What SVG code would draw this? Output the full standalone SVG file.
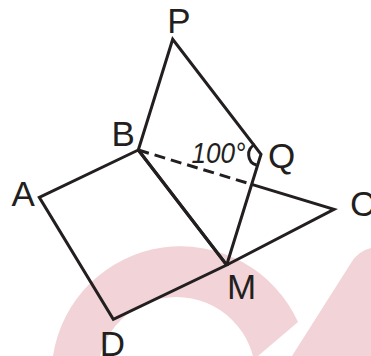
<svg xmlns="http://www.w3.org/2000/svg" width="371" height="356" viewBox="0 0 371 356">
<style>
.wm{fill:#f2d3d8;stroke:none}
.ln{stroke:#231f20;stroke-width:3;fill:none;stroke-linecap:butt;stroke-linejoin:miter}
.dash{stroke-dasharray:11 6}
.lb{font-family:"Liberation Sans",Arial,sans-serif;font-size:35px;fill:#231f20;text-anchor:middle}
.ang{font-family:"Liberation Sans",Arial,sans-serif;font-size:30px;font-style:italic;fill:#231f20}
</style>
<rect width="371" height="356" fill="#ffffff"/>
<g id="watermark">
<path class="wm" fill-rule="evenodd" d="M53,356 A129,129 0 0 1 298,322 L258,356 Z M97.5,376 A79,79 0 0 0 255.5,376 A79,79 0 0 0 97.5,376 Z"/>
<path class="wm" d="M292,356 L351,263 Q358,251 371,248 L371,356 Z"/>
</g>
<g id="connectors">
<polyline class="ln" points="138.3,150 172.7,39.3 261,154.3 226.7,265"/>
<polygon class="ln" points="138.3,150 39.3,197.3 113.3,319.3 226.7,265"/>
<line class="ln" x1="138.3" y1="150" x2="226.7" y2="265"/>
<polyline class="ln" points="226.7,265 334,209.3 251.7,184.4"/>
<line class="ln dash" x1="138.3" y1="150" x2="251.7" y2="184.4"/>
<path class="ln" stroke-width="2.5" d="M255,144.5 A11,11 0 0 0 256.5,165"/>
</g>
<g id="P"><text class="lb" x="179" y="32.5">P</text></g>
<g id="B"><text class="lb" x="123.3" y="145.5">B</text></g>
<g id="Q"><text class="lb" x="281.7" y="167.5">Q</text></g>
<g id="A"><text class="lb" x="23.3" y="205.5">A</text></g>
<g id="C"><text class="lb" x="350" y="215.5" style="text-anchor:start">C</text></g>
<g id="M"><text class="lb" x="241.7" y="298.5">M</text></g>
<g id="D"><text class="lb" x="112.5" y="355.5">D</text></g>
<g id="angle"><text class="ang" x="191.5" y="162.5" textLength="54" lengthAdjust="spacingAndGlyphs">100°</text></g>
</svg>
